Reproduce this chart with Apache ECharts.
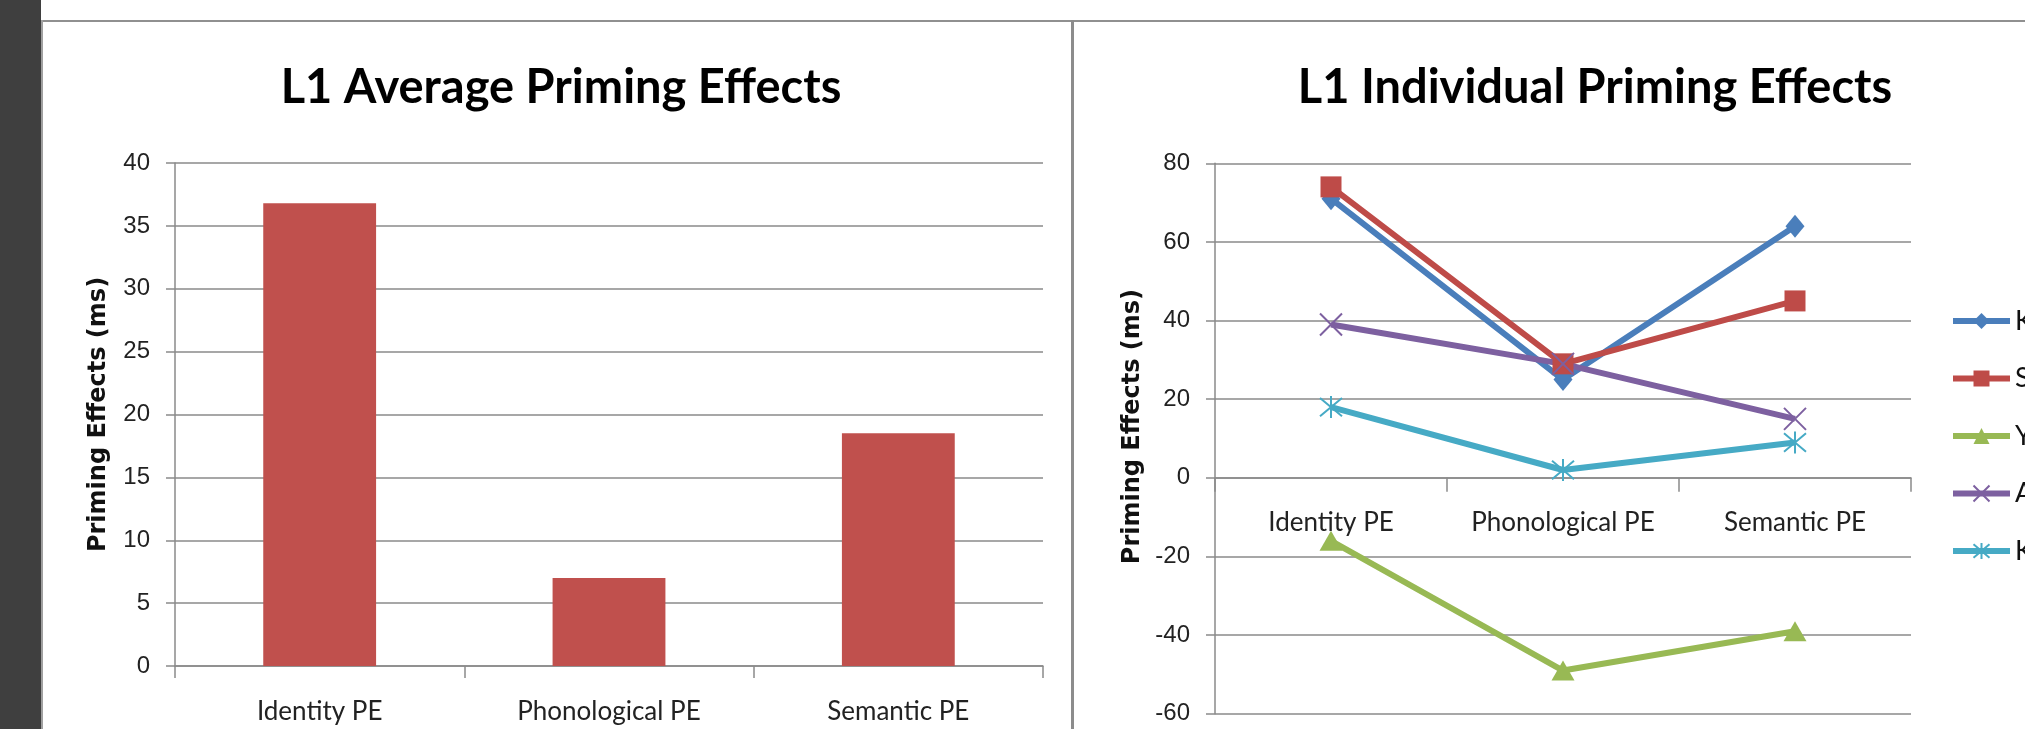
<!DOCTYPE html>
<html><head><meta charset="utf-8">
<script src="https://cdn.jsdelivr.net/npm/echarts@6/dist/echarts.min.js"></script>
<style>html,body{margin:0;padding:0;background:#fff;overflow:hidden;} #c{width:2025px;height:729px;}</style>
</head><body><div id="c"></div>
<script>
// ---- data ----
const categories = ['Identity PE', 'Phonological PE', 'Semantic PE'];
const averagePE = [36.8, 7.0, 18.5];
const individualNames = ['K', 'S', 'Y', 'A', 'K\u200B'];
const seriesK1 = [71, 25, 64];
const seriesS = [74, 29, 45];
const seriesY = [-16, -49, -39];
const seriesA = [39, 29, 15];
const seriesK2 = [18, 2, 9];
const leftTicks = [0, 40, 5];
const rightTicks = [-60, 80, 20];
const titles = ['L1 Average Priming Effects', 'L1 Individual Priming Effects'];
const yName = 'Priming Effects (ms)';

// ---- styles ----
const HUM = "Lato,'Open Sans',sans-serif";
const GRAY = '#8a8a8a';
const colors = ['#4A7EBB', '#BE4B48', '#98B954', '#7D60A0', '#46AAC5'];
const symbols = ['diamond', 'rect', 'triangle',
  'path://M0,0 L10,10 M10,0 L0,10',
  'path://M0,0 L10,10 M10,0 L0,10 M5,-1 L5,11'];
const symbolSizes = [[19, 23], 21, [23, 20], 22, 22];
const lineData = [seriesK1, seriesS, seriesY, seriesA, seriesK2];

function yAxis(grid, t, gap, pad) {
  return {
    type: 'value', gridIndex: grid, min: t[0], max: t[1], interval: t[2],
    name: yName, nameLocation: 'middle', nameGap: gap, nameRotate: 90,
    nameTextStyle: { fontFamily: 'DejaVu Sans', fontWeight: 'bold', fontSize: 24, color: '#111', padding: pad },
    axisLine: { show: true, lineStyle: { color: GRAY, width: 1.5 } },
    axisTick: { show: true, length: 9, lineStyle: { color: GRAY, width: 1.5 } },
    splitLine: { show: true, lineStyle: { color: GRAY, width: 1.5 } },
    axisLabel: { fontFamily: "'Liberation Sans',Arial,sans-serif", fontSize: 24, color: '#222', margin: 25 }
  };
}
function xAxis(grid, tickLen, margin) {
  return {
    type: 'category', gridIndex: grid, data: categories, boundaryGap: true,
    axisLine: { show: true, onZero: true, lineStyle: { color: GRAY, width: 1.5 } },
    axisTick: { show: true, length: tickLen, alignWithLabel: false, interval: 0, lineStyle: { color: GRAY, width: 1.5 } },
    axisLabel: { fontFamily: HUM, fontSize: 26, color: '#222', margin: margin, interval: 0, hideOverlap: false },
    splitLine: { show: false }
  };
}

const lineSeries = individualNames.map((n, i) => {
  const isPath = i >= 3;
  return {
    type: 'line', name: n, xAxisIndex: 1, yAxisIndex: 1, data: lineData[i],
    symbol: symbols[i], symbolSize: symbolSizes[i], showAllSymbol: true,
    lineStyle: { color: colors[i], width: 6 },
    itemStyle: isPath ? { color: colors[i], borderColor: colors[i], borderWidth: 2 } : { color: colors[i] },
    emphasis: { disabled: true }, animation: false
  };
});

const chart = echarts.init(document.getElementById('c'), null, { renderer: 'canvas' });
chart.setOption({
  animation: false,
  backgroundColor: '#ffffff',
  graphic: [
    { type: 'rect', shape: { x: 0, y: 0, width: 41, height: 729 }, style: { fill: '#3f3f3f' }, z: -10 },
    { type: 'rect', shape: { x: 41, y: 20, width: 1984, height: 2 }, style: { fill: '#909090' }, z: -10 },
    { type: 'rect', shape: { x: 41, y: 20, width: 2, height: 709 }, style: { fill: '#a0a0a0' }, z: -10 },
    { type: 'rect', shape: { x: 1071, y: 20, width: 3, height: 709 }, style: { fill: '#8c8c8c' }, z: -10 }
  ],
  title: [
    { text: titles[0], left: 556, top: 59, textAlign: 'center',
      textStyle: { fontFamily: HUM, fontWeight: 'bold', fontSize: 47, color: '#000' } },
    { text: titles[1], left: 1590, top: 59, textAlign: 'center',
      textStyle: { fontFamily: HUM, fontWeight: 'bold', fontSize: 47, color: '#000' } }
  ],
  legend: {
    orient: 'vertical', left: 1950, top: 306, padding: 0, itemWidth: 57, itemHeight: 20, itemGap: 27.5,
    selectedMode: false, data: individualNames,
    lineStyle: { width: 6 },
    textStyle: { fontFamily: HUM, fontSize: 27, lineHeight: 30, color: '#111' }
  },
  grid: [
    { left: 175, top: 163, width: 868, height: 503, containLabel: false },
    { left: 1215, top: 163.3, width: 696, height: 550.5, containLabel: false }
  ],
  xAxis: [xAxis(0, 12, 33), xAxis(1, 14, -204)],
  yAxis: [yAxis(0, leftTicks, 64, 0), yAxis(1, rightTicks, 70, [0, 0, 0, 24])],
  series: [
    { type: 'bar', name: 'Average', xAxisIndex: 0, yAxisIndex: 0, data: averagePE,
      barWidth: '39%', itemStyle: { color: '#C0504D' }, emphasis: { disabled: true } }
  ].concat(lineSeries)
});
</script></body></html>
